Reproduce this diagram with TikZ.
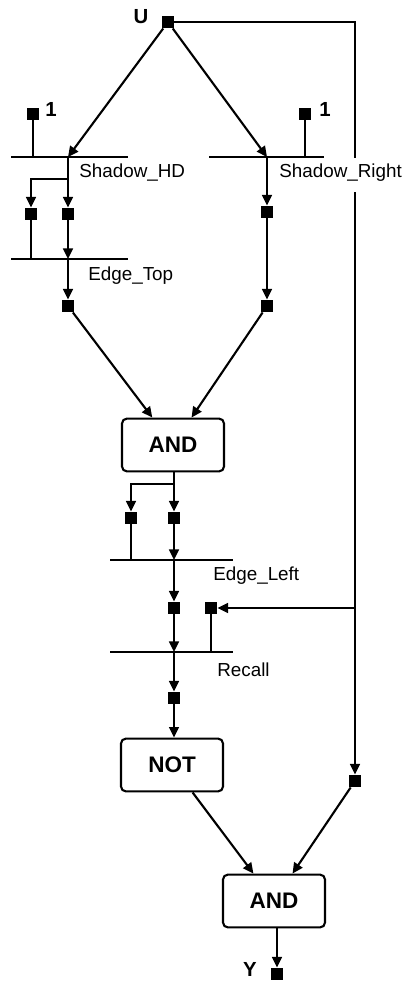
\documentclass[tikz,border=0pt]{standalone}
\usepackage{fontspec}
\setmainfont{Liberation Sans}
\usepackage{tikz}
\usetikzlibrary{arrows.meta}
\tikzset{
  gatebox/.style={rectangle, rounded corners=3.5pt, draw=black, line width=1.5pt, minimum width=2.55cm, minimum height=1.32cm, font=\fontsize{16}{18}\selectfont\bfseries},
  sqport/.style={rectangle, fill=black, minimum size=0.31cm, inner sep=0pt},
  tag/.style={font=\fontsize{14.5}{16}\selectfont\bfseries, inner sep=0pt},
  lbl/.style={anchor=west, inner sep=0pt, font=\fontsize{13.4}{16}\selectfont},
  wire/.style={line width=1.5pt, draw=black},
  arrow/.style={-{Triangle[length=7.5pt, width=7pt]}, line width=1.5pt, draw=black}
}
\begin{document}
\begin{tikzpicture}[x=0.025cm, y=-0.025cm]
  \useasboundingbox (0,0) rectangle (405,985);

  % input and constants
  \node[sqport] (u) at (168,22) {};
  \node[tag] (ulbl) at (141,17) {U};
  \node[sqport] (one1) at (33,114) {};
  \node[tag] at (51,109) {1};
  \node[sqport] (one2) at (305,114) {};
  \node[tag] at (325,109) {1};

  % bars
  \coordinate (shdL) at (11,157);  \coordinate (shdR) at (128,157);
  \coordinate (srL) at (209,157);  \coordinate (srR) at (324,157);
  \coordinate (etL) at (11,259);   \coordinate (etR) at (128,259);
  \coordinate (elL) at (110,560);  \coordinate (elR) at (233,560);
  \coordinate (rcL) at (110,652);  \coordinate (rcR) at (233,652);
  \draw[wire] (shdL) -- (shdR);
  \draw[wire] (srL) -- (srR);
  \draw[wire] (etL) -- (etR);
  \draw[wire] (elL) -- (elR);
  \draw[wire] (rcL) -- (rcR);
  \node[lbl] at (79,173) {Shadow\_HD};
  \node[lbl] at (279,173) {Shadow\_Right};
  \node[lbl] at (88,276) {Edge\_Top};
  \node[lbl] at (213,576) {Edge\_Left};
  \node[lbl] at (217,670) {Recall};

  % ports
  \node[sqport] (a0) at (31,214) {};
  \node[sqport] (a1) at (68,214) {};
  \node[sqport] (a2) at (68,306) {};
  \node[sqport] (b1) at (267,212) {};
  \node[sqport] (b2) at (267,306) {};
  \node[sqport] (c0) at (131,518) {};
  \node[sqport] (c1) at (174,518) {};
  \node[sqport] (d1) at (174,608) {};
  \node[sqport] (d2) at (211,608) {};
  \node[sqport] (e1) at (174,698) {};
  \node[sqport] (f1) at (355,781) {};
  \node[sqport] (y) at (277,974) {};
  \node[tag] at (250,969) {Y};

  % gates
  \node[gatebox] (and1) at (173,445) {AND};
  \node[gatebox] (not) at (172,765) {NOT};
  \node[gatebox] (and2) at (274,901) {AND};

  % junctions
  \coordinate (shd) at (68,157);
  \coordinate (sr) at (267,157);
  \coordinate (shdfork) at (68,179);
  \coordinate (et) at (68,259);
  \coordinate (et0) at (31,259);
  \coordinate (andfork) at (174,484);
  \coordinate (el) at (174,560);
  \coordinate (el0) at (131,560);
  \coordinate (rc) at (174,652);
  \coordinate (rc0) at (211,652);
  \coordinate (rtop) at (355,22);
  \coordinate (rgap) at (355,158);
  \coordinate (rback) at (355,192);
  \coordinate (rmid) at (355,608);

  \draw[arrow] (u) -- (shd);
  \draw[arrow] (u) -- (sr);
  \draw[wire] (u) -- (rtop) -- (rgap);
  \draw[wire] (one1) -- (one1 |- shd);
  \draw[wire] (one2) -- (one2 |- sr);
  \draw[wire] (shd) -- (shdfork);
  \draw[arrow] (shdfork) -- (a1);
  \draw[arrow] (shdfork) -- (a0 |- shdfork) -- (a0);
  \draw[wire] (a0) -- (et0);
  \draw[arrow] (a1) -- (et);
  \draw[arrow] (et) -- (a2);
  \draw[arrow] (sr) -- (b1);
  \draw[arrow] (b1) -- (b2);
  \draw[arrow] (a2) -- (and1);
  \draw[arrow] (b2) -- (and1);
  \draw[wire] (and1.south -| andfork) -- (andfork);
  \draw[arrow] (andfork) -- (c1);
  \draw[arrow] (andfork) -- (c0 |- andfork) -- (c0);
  \draw[wire] (c0) -- (el0);
  \draw[arrow] (c1) -- (el);
  \draw[arrow] (el) -- (d1);
  \draw[arrow] (d1) -- (rc);
  \draw[wire] (d2) -- (rc0);
  \draw[arrow] (rmid) -- (d2);
  \draw[arrow] (rback) -- (f1);
  \draw[arrow] (rc) -- (e1);
  \draw[arrow] (e1) -- (not.north -| e1);
  \draw[arrow] (not) -- (and2);
  \draw[arrow] (f1) -- (and2);
  \draw[arrow] (and2.south -| y) -- (y);
\end{tikzpicture}
\end{document}
